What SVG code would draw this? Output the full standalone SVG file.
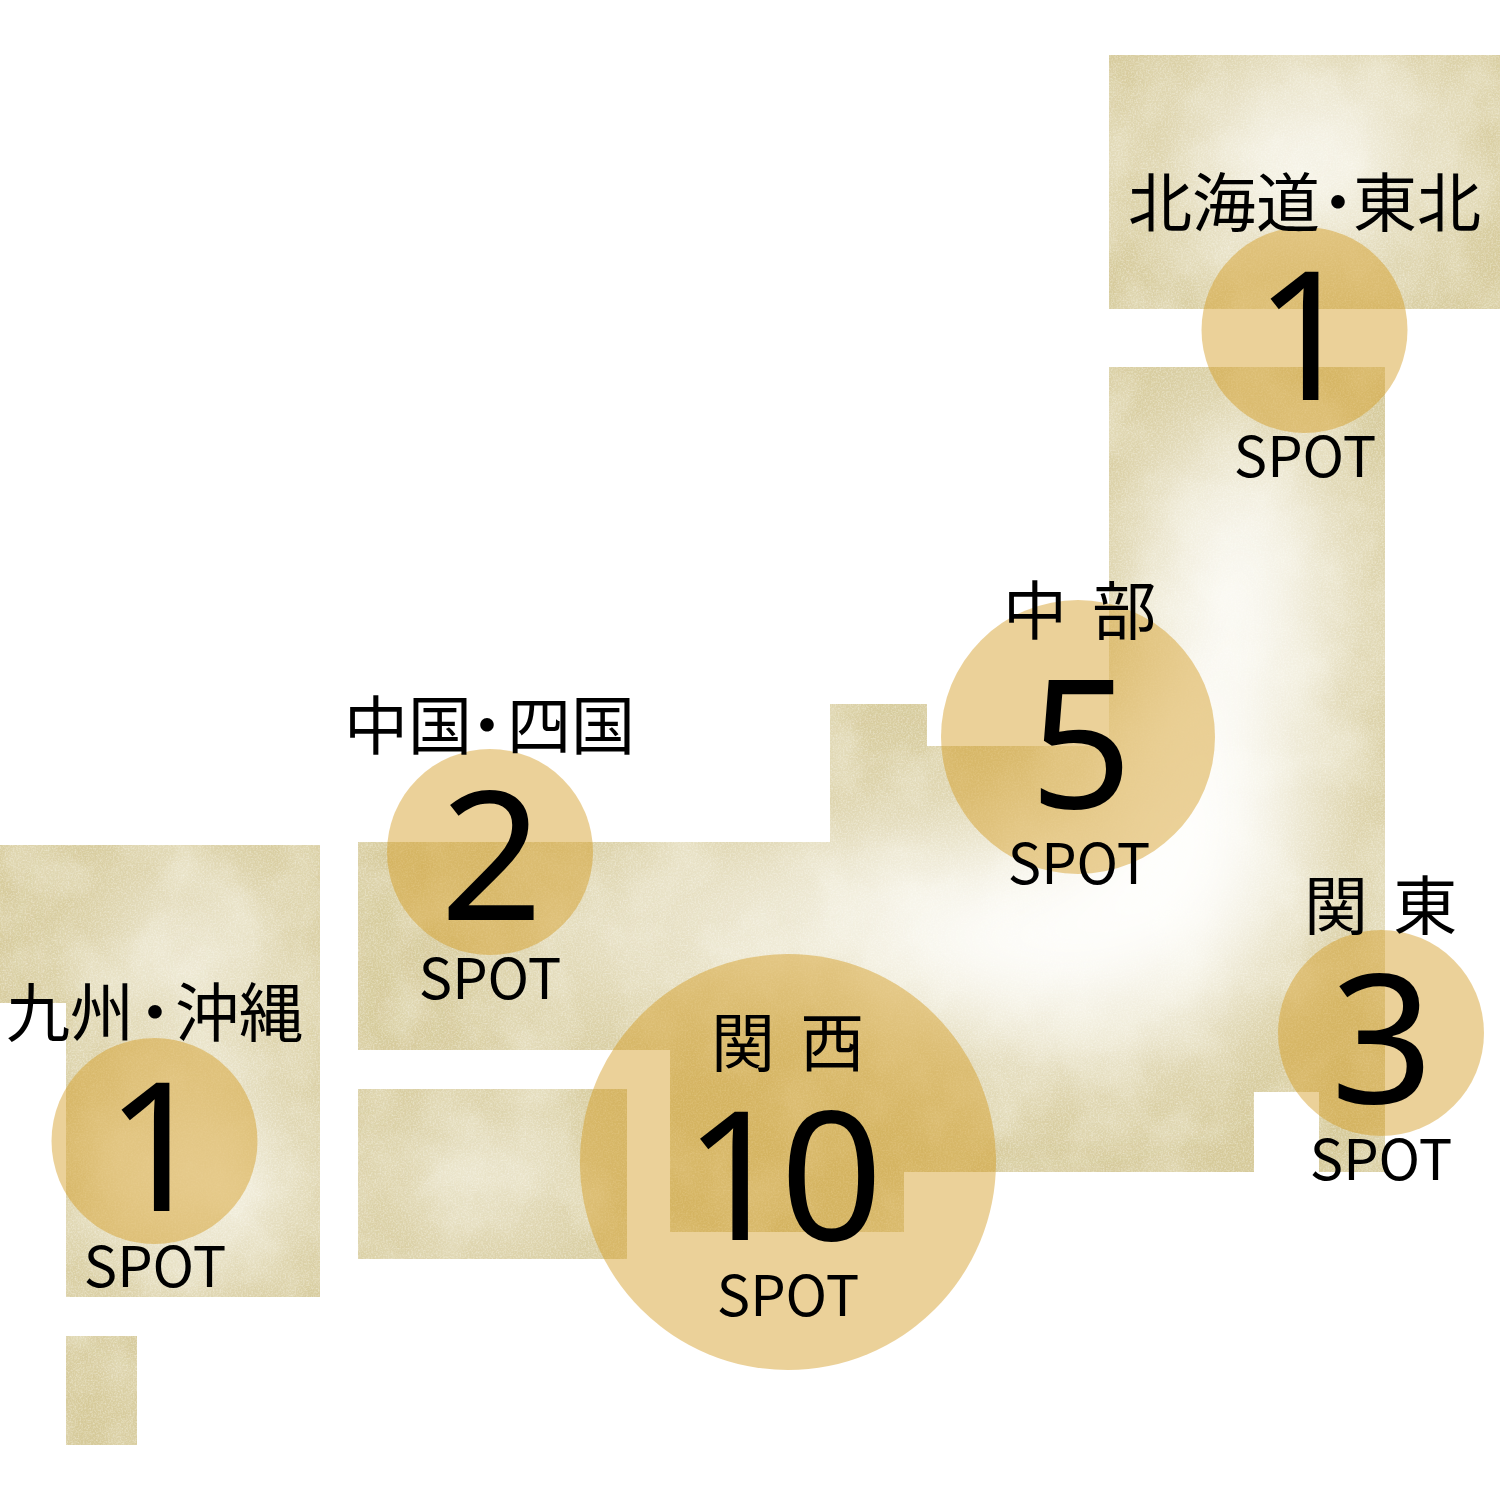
<svg xmlns="http://www.w3.org/2000/svg" width="1500" height="1500" viewBox="0 0 1500 1500">
<style>
.jp{font-family:"Noto Sans CJK JP","Noto Sans",sans-serif;fill:#000}
.lb{font-size:64px}
.gap{word-spacing:11px}
.num{font-family:"Noto Sans","Open Sans",sans-serif;font-size:180px;text-anchor:middle;fill:#000}
.sp{font-size:56px;text-anchor:middle}
.c{fill:#d3991c;fill-opacity:.45}
.glow{fill:#fff}
</style>
<defs>
<filter id="blur" x="-100%" y="-100%" width="300%" height="300%"><feGaussianBlur stdDeviation="62"/></filter>
<filter id="fine" x="0" y="0" width="100%" height="100%"><feTurbulence type="fractalNoise" baseFrequency="0.6" numOctaves="2" seed="4"/><feColorMatrix values="0 0 0 0 1  0 0 0 0 1  0 0 0 0 0.95  1.6 0 0 0 -0.62"/></filter>
<filter id="coarse" x="0" y="0" width="100%" height="100%"><feTurbulence type="fractalNoise" baseFrequency="0.014" numOctaves="4" seed="9"/><feColorMatrix values="0 0 0 0 1  0 0 0 0 1  0 0 0 0 0.96  2.4 0 0 0 -0.9"/></filter>
<clipPath id="land">
<rect x="1109" y="55" width="391" height="254"/>
<path d="M358 842H830V704H927V746H1109V367H1385V1172H1319V1092H1254V1172H904V1232H670V1050H358Z"/>
<rect x="358" y="1089" width="269" height="170"/>
<path d="M0 845H320V1297H66V1003H0Z"/>
<rect x="66" y="1336" width="71" height="109"/>
</clipPath>
</defs>
<g id="map" clip-path="url(#land)">
<rect width="1500" height="1500" fill="#d6ca9a"/>
<g filter="url(#blur)">
<ellipse class="glow" cx="1310" cy="140" rx="130" ry="65"/>
<ellipse class="glow" cx="1300" cy="240" rx="130" ry="40" opacity="0.6"/>
<ellipse class="glow" cx="1240" cy="590" rx="90" ry="170"/>
<ellipse class="glow" cx="1190" cy="830" rx="125" ry="180"/>
<ellipse class="glow" cx="1050" cy="940" rx="210" ry="110"/>
<ellipse class="glow" cx="840" cy="910" rx="170" ry="60" opacity="0.8"/>
<ellipse class="glow" cx="620" cy="935" rx="150" ry="60" opacity="0.55"/>
<ellipse class="glow" cx="490" cy="1180" rx="100" ry="45" opacity="0.8"/>
<ellipse class="glow" cx="190" cy="950" rx="75" ry="60"/>
<ellipse class="glow" cx="190" cy="1170" rx="85" ry="100"/>
<ellipse class="glow" cx="880" cy="770" rx="35" ry="35" opacity="0.4"/>
</g>
<rect width="1500" height="1500" filter="url(#coarse)" opacity="0.28"/>
<rect width="1500" height="1500" filter="url(#fine)" opacity="0.5"/>
</g>
<g id="connectors"/>
<g id="hokkaido-tohoku">
<circle class="c" cx="1304.500" cy="330" r="103"/>
<text class="jp lb" x="1128" y="226">北海道<tspan dx="-14">・</tspan><tspan dx="-17">東北</tspan></text>
<text class="num" x="1306" y="400">1</text>
<text class="jp sp" x="1305" y="477">SPOT</text>
</g>
<g id="chubu">
<circle class="c" cx="1078" cy="737" r="137"/>
<text class="jp lb gap" x="1003" y="634">中 部</text>
<text class="num" x="1081" y="808">5</text>
<text class="jp sp" x="1079" y="884">SPOT</text>
</g>
<g id="chugoku-shikoku">
<circle class="c" cx="490" cy="852" r="103"/>
<text class="jp lb" x="344" y="749">中国<tspan dx="-17">・</tspan><tspan dx="-12">四国</tspan></text>
<text class="num" x="491.500" y="920">2</text>
<text class="jp sp" x="490" y="999">SPOT</text>
</g>
<g id="kanto">
<circle class="c" cx="1381" cy="1033" r="103"/>
<text class="jp lb gap" x="1304" y="929">関 東</text>
<text class="num" x="1382" y="1103">3</text>
<text class="jp sp" x="1381" y="1180">SPOT</text>
</g>
<g id="kansai">
<circle class="c" cx="788" cy="1162" r="208"/>
<text class="jp lb gap" x="711" y="1066">関 西</text>
<text class="num" x="780" y="1240" letter-spacing="-7">10</text>
<text class="jp sp" x="788" y="1316">SPOT</text>
</g>
<g id="kyushu-okinawa">
<circle class="c" cx="154.500" cy="1141" r="103"/>
<text class="jp lb" x="6" y="1036">九州<tspan dx="-11">・</tspan><tspan dx="-12">沖縄</tspan></text>
<text class="num" x="157" y="1211">1</text>
<text class="jp sp" x="155" y="1287">SPOT</text>
</g>
</svg>
